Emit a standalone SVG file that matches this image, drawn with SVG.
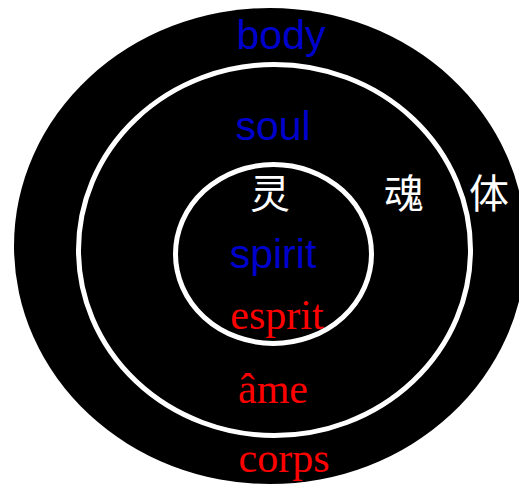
<svg xmlns="http://www.w3.org/2000/svg" width="519" height="485" viewBox="0 0 519 485">
<style>
.ring{fill:none;stroke:#fff;stroke-width:5}
.en{font-family:"Liberation Sans",Arial,sans-serif;font-size:41px;fill:#0000cc;text-anchor:middle}
.fr{font-family:"Liberation Serif","Times New Roman",serif;font-size:42px;fill:#ff0000;text-anchor:middle}
.zh{font-family:"Noto Sans CJK SC",sans-serif;font-size:40px;fill:#fff;text-anchor:middle}
</style>
<rect width="519" height="485" fill="#fff"/>
<g id="body">
<ellipse cx="270" cy="246" rx="256" ry="238" fill="#000"/>
<text class="en" x="281" y="49">body</text>
<text class="fr" x="284" y="472">corps</text>
<text class="zh" x="489" y="208">体</text>
</g>
<g id="soul">
<ellipse class="ring" cx="274.5" cy="250" rx="196" ry="185.5"/>
<text class="en" x="273" y="140">soul</text>
<text class="fr" x="273" y="403">âme</text>
<text class="zh" x="404" y="208">魂</text>
</g>
<g id="spirit">
<ellipse class="ring" cx="273.5" cy="254" rx="98" ry="89.5"/>
<text class="en" x="273" y="268">spirit</text>
<text class="fr" x="277" y="329">esprit</text>
<text class="zh" x="270" y="208">灵</text>
</g>
<g id="connectors"/>
</svg>
